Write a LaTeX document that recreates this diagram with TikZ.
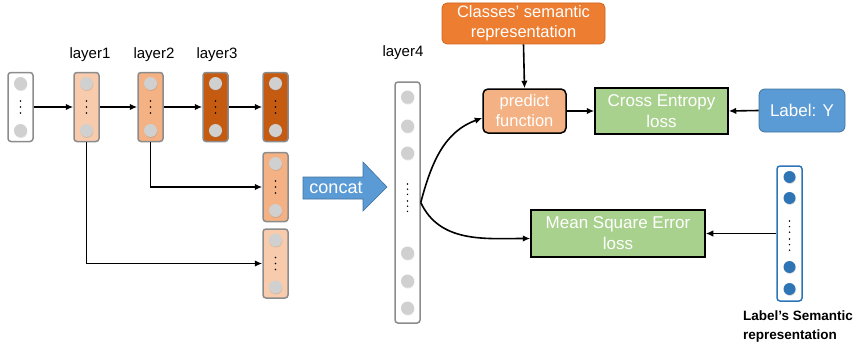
\documentclass[tikz,border=0pt]{standalone}
\usepackage{fontspec}
\setmainfont{Liberation Sans}
\usetikzlibrary{arrows.meta,shadows}
\definecolor{peachL}{HTML}{F8CBAD}
\definecolor{peachM}{HTML}{F4B183}
\definecolor{rust}{HTML}{C55A11}
\definecolor{boxgray}{HTML}{8C8C8C}
\definecolor{neurongray}{HTML}{D0D0D0}
\definecolor{orangeC}{HTML}{ED7D31}
\definecolor{orangeD}{HTML}{D0661E}
\definecolor{greenL}{HTML}{A9D18E}
\definecolor{blueL}{HTML}{5B9BD5}
\definecolor{blueD}{HTML}{41719C}
\definecolor{blueN}{HTML}{2E75B6}
\newcommand\lcol[4]{%
  \node[lbox,fill=#4] (#1) at (#2,#3) {};
  \node[neuron] (#1a) at (#2,#3-23.5) {};
  \node[neuron] (#1b) at (#2,#3+23.5) {};
  \foreach \d in {-6,0,6} \fill (#2,#3+\d) circle (0.9);
}
\begin{document}
\begin{tikzpicture}[x=1pt,y=-1pt,
  lbox/.style={draw=boxgray, line width=1.5pt, rounded corners=3pt, minimum width=25pt, minimum height=69pt, inner sep=0pt},
  neuron/.style={circle, fill=neurongray, minimum size=13pt, inner sep=0pt, drop shadow={shadow xshift=0.4pt, shadow yshift=-1pt, opacity=0.25}},
  bneuron/.style={circle, fill=blueN, minimum size=12pt, inner sep=0pt, drop shadow={shadow xshift=0.4pt, shadow yshift=-1pt, opacity=0.25}},
  arr/.style={-{Latex[length=7.5pt,width=6.5pt]}, line width=1.6pt},
  lab/.style={font=\fontsize{15}{18}\selectfont},
  wtxt/.style={text=white, align=center, inner sep=0pt, font=\fontsize{17}{21}\selectfont},
  lossbox/.style={wtxt, draw=black, line width=1.5pt, fill=greenL},
]
\useasboundingbox (0,0) rectangle (858,345);

% left columns
\node[lbox, fill=white] (in) at (20.5,107) {};
\node[neuron] (ina) at (20.5,83.5) {};
\node[neuron] (inb) at (20.5,130.5) {};
\foreach \d in {-6,0,6} \fill (20.5,107+\d) circle (0.9);
\lcol{l1}{86.5}{107}{peachL}
\lcol{l2}{150.5}{107}{peachM}
\lcol{l3}{215.5}{107}{rust}
\lcol{o3}{275.5}{107}{rust}
\lcol{o2}{275.5}{187}{peachM}
\lcol{o1}{275.5}{263.5}{peachL}

\node[lab] (t1) at (90,55) {layer1};
\node[lab] (t2) at (154,55) {layer2};
\node[lab] (t3) at (217,55) {layer3};
\node[lab] (t4) at (403,53) {layer4};

\draw[arr] (in.east) -- (l1.west);
\draw[arr] (l1.east) -- (l2.west);
\draw[arr] (l2.east) -- (l3.west);
\draw[arr] (l3.east) -- (o3.west);
\draw[arr] (l2.south) |- (o2.west);
\draw[arr] (l1.south) |- (o1.west);

% concat arrow
\fill[blueL, draw=blueD, line width=0.6pt] (303,177) -- (363,177) -- (363,162) -- (387,187) -- (363,211) -- (363,199) -- (303,199) -- cycle;
\node[text=white, font=\fontsize{18}{20}\selectfont] (concat) at (336,188) {concat};

% layer4
\node[draw=boxgray, line width=1.5pt, rounded corners=3pt, fill=white, minimum width=25pt, minimum height=241pt, inner sep=0pt] (l4) at (407.5,202.5) {};
\foreach \yy [count=\i] in {97,126,153,253,281,308} \node[neuron] (l4n\i) at (407.5,\yy) {};
\foreach \yy in {184,189.2,194.4,201,206.2,211.4} \fill (407.5,\yy) circle (0.8);

% right part
\node[wtxt, fill=orangeC, draw=orangeD, line width=0.8pt, rounded corners=5pt, minimum width=163pt, minimum height=41pt, font=\fontsize{16.5}{20}\selectfont] (cls) at (523.5,23.5) {Classes’ semantic\\representation};
\node[wtxt, fill=peachM, draw=black, line width=1.5pt, rounded corners=5pt, minimum width=83pt, minimum height=44pt, font=\fontsize{16.5}{20}\selectfont] (pred) at (524.5,111) {predict\\function};
\node[lossbox, minimum width=133pt, minimum height=46pt] (ce) at (661.5,111) {Cross Entropy\\loss};
\node[wtxt, fill=blueL, draw=blueD, line width=0.8pt, rounded corners=6pt, minimum width=86pt, minimum height=43pt] (ly) at (802,110.5) {Label: Y};
\node[lossbox, minimum width=174pt, minimum height=47pt] (mse) at (618,233.5) {Mean Square Error\\loss};

% label semantic column
\node[draw=blueN, line width=1.5pt, rounded corners=3pt, fill=white, minimum width=25pt, minimum height=135pt, inner sep=0pt] (ls) at (789.5,233.5) {};
\foreach \yy [count=\i] in {177,198,267,289} \node[bneuron] (lsn\i) at (789.5,\yy) {};
\foreach \yy in {221,226.6,232.2,239,244.6,250.2} \fill (789.5,\yy) circle (0.8);
\node[anchor=north west, align=left, inner sep=0pt, font=\bfseries\fontsize{13.5}{19}\selectfont] (lst) at (743,311) {Label’s Semantic\\representation};

% connectors
\draw[arr] (cls.south) -- (pred.north);
\draw[arr] (pred.east) -- (ce.west);
\draw[arr] (ly.west) -- (ce.east);
\draw[arr] (ls.west) -- (mse.east);
\draw[arr] (l4.east) to[out=75,in=200] ([yshift=-7pt]pred.west);
\draw[arr] (l4.east) to[out=-65,in=180] ([yshift=-5pt]mse.west);
\end{tikzpicture}
\end{document}
